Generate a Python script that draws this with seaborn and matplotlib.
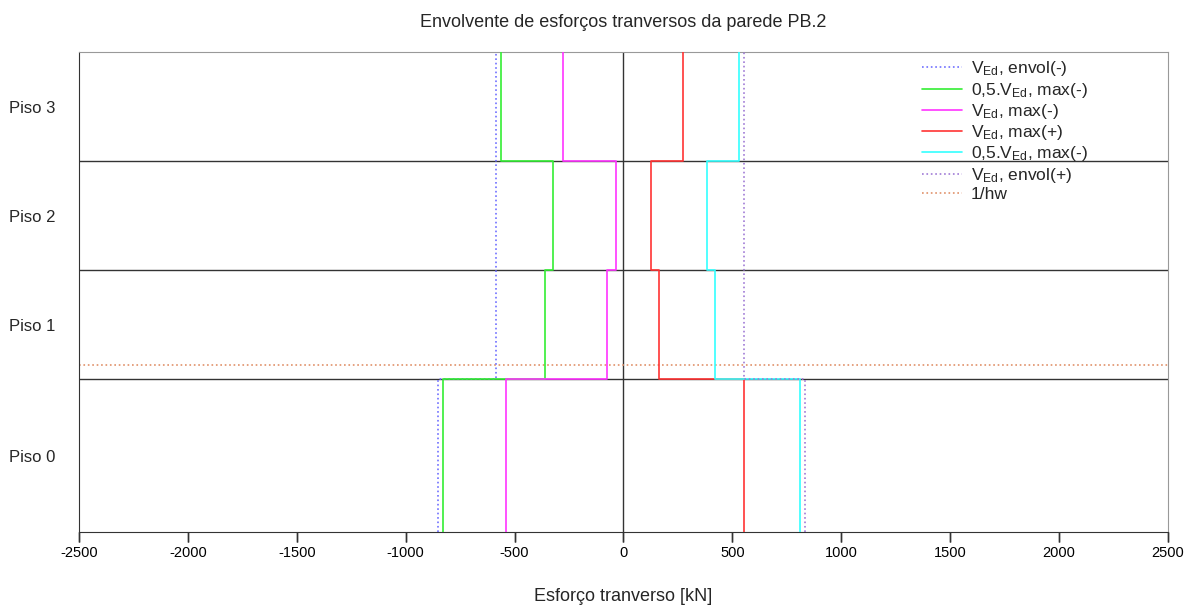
import pandas as pd
import matplotlib
matplotlib.use('Agg')
import matplotlib.pyplot as plt
import seaborn as sns

# Floors and storey levels [m]
floors = ['Piso 0', 'Piso 1', 'Piso 2', 'Piso 3']
levels = [0.0, 4.2, 7.2, 10.2, 13.2]

# Shear values per floor [kN] (Piso 0 .. Piso 3)
ved_envol_neg = [-850, -587, -587, -587]
half_ved_max_neg = [-827, -359, -322, -561]
ved_max_neg = [-539, -74, -36, -276]
ved_max_pos = [555, 164, 128, 273]
half_ved_max_neg_b = [812, 421, 385, 532]
ved_envol_pos = [835, 553, 553, 553]
inv_hw_level = 4.6

x_ticks = [-2500, -2000, -1500, -1000, -500, 0, 500, 1000, 1500, 2000, 2500]

sns.set_style('ticks')
plt.rcParams['font.family'] = ['Liberation Sans', 'DejaVu Sans']
plt.rcParams['mathtext.fontset'] = 'custom'
plt.rcParams['mathtext.rm'] = 'Liberation Sans'
plt.rcParams['mathtext.it'] = 'Liberation Sans'


def step_frame(vals):
    # vertical segment inside each floor, horizontal jump at each slab
    xs, ys = [], []
    for i, v in enumerate(vals):
        xs += [v, v]
        ys += [levels[i], levels[i + 1]]
    return pd.DataFrame({'x': xs, 'y': ys})


fig = plt.figure(figsize=(11.89, 6.10), dpi=100)
ax = fig.add_axes([0.0664, 0.1279, 0.9159, 0.7869])

# floor slabs and zero axis
for lv in levels[1:-1]:
    ax.axhline(lv, color='#333333', lw=1.0, zorder=1)
ax.axvline(0, color='#333333', lw=1.0, zorder=1)

series = [
    (ved_envol_neg, r'V$_{\mathrm{Ed}}$, envol(-)', '#6f6fff', ':'),
    (half_ved_max_neg, r'0,5.V$_{\mathrm{Ed}}$, max(-)', '#33ee33', '-'),
    (ved_max_neg, r'V$_{\mathrm{Ed}}$, max(-)', '#ff33ff', '-'),
    (ved_max_pos, r'V$_{\mathrm{Ed}}$, max(+)', '#ff3333', '-'),
    (half_ved_max_neg_b, r'0,5.V$_{\mathrm{Ed}}$, max(-)', '#33ffff', '-'),
    (ved_envol_pos, r'V$_{\mathrm{Ed}}$, envol(+)', '#a07ad6', ':'),
]
for vals, label, color, ls in series:
    df = step_frame(vals)
    sns.lineplot(data=df, x='x', y='y', sort=False, estimator=None,
                 color=color, linestyle=ls, lw=1.2, label=label, ax=ax, zorder=3)

hw = pd.DataFrame({'x': [x_ticks[0], x_ticks[-1]], 'y': [inv_hw_level, inv_hw_level]})
sns.lineplot(data=hw, x='x', y='y', sort=False, estimator=None, color='#e0916a',
             linestyle=':', lw=1.2, label='1/hw', ax=ax, zorder=2)

ax.set_xlim(x_ticks[0], x_ticks[-1])
ax.set_ylim(levels[0], levels[-1])
ax.set_xticks(x_ticks)
ax.set_xticklabels([str(t) for t in x_ticks], fontsize=10.5, color='black')
mids = [(levels[i] + levels[i + 1]) / 2 for i in range(len(floors))]
ax.set_yticks(mids)
ax.set_yticklabels(floors, fontsize=12)
ax.tick_params(axis='x', which='major', bottom=True, direction='out', length=7,
               width=1.0, color='#333333', pad=3)
ax.tick_params(axis='y', left=False, length=0, pad=17)

# explicit tick marks below the axis (blended transform: data x, axes y)
ax.vlines(x_ticks, -0.02, 0, transform=ax.get_xaxis_transform(),
          colors='#333333', lw=1.0, clip_on=False, zorder=5)

for side in ['top', 'right', 'left', 'bottom']:
    ax.spines[side].set_visible(True)
for side in ['left', 'bottom']:
    ax.spines[side].set_color('#333333')
for side in ['top', 'right']:
    ax.spines[side].set_color('#999999')

ax.set_xlabel('Esforço tranverso [kN]', fontsize=13, labelpad=20)
ax.set_ylabel('')
ax.set_title('Envolvente de esforços tranversos da parede PB.2', fontsize=13, pad=18)

ax.legend(loc='upper left', bbox_to_anchor=(0.7600, 1.017), frameon=False,
          fontsize=12.5, handlelength=2.3, labelspacing=0.13, handletextpad=0.5)

fig.savefig('out.png', dpi=100)
